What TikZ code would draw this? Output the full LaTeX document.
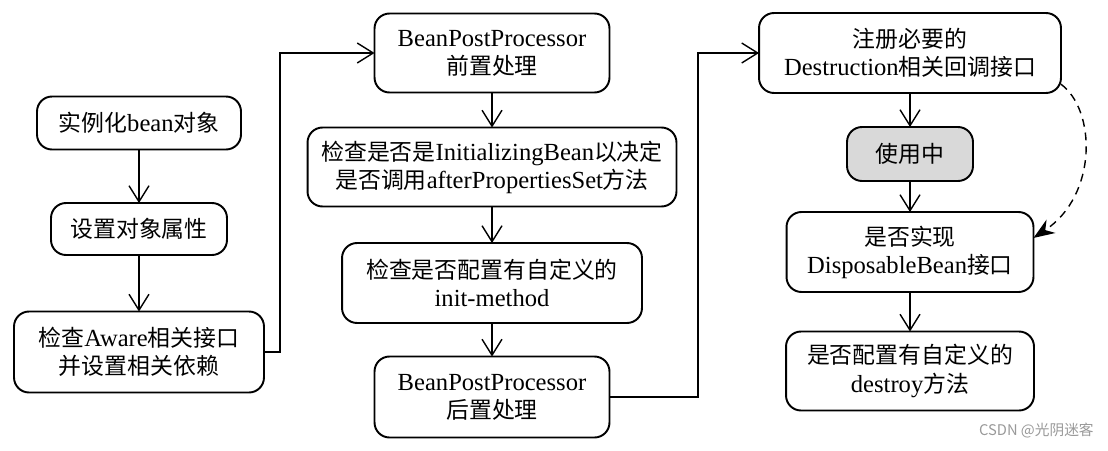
\documentclass[tikz,border=0pt]{standalone}
\usepackage{fontspec}
\setmainfont{Liberation Serif}
\newfontfamily\cjk[Scale=0.93]{Noto Sans CJK SC}
\newcommand\zh[1]{{\cjk #1}}
\usepackage{xcolor}
\usepackage{tikz}
\usetikzlibrary{positioning}
\usetikzlibrary{arrows.meta}
\usetikzlibrary{shapes}

\begin{document}
\begin{tikzpicture}[
                    x = 0.02cm, y = -0.02cm,
                    stage/.style = { draw, black, rounded corners = 0.3cm, line width = 1.1pt, align = center, font = \fontsize{14}{16}\selectfont, inner sep = 0pt, outer sep = 0pt, text = black },
                    busy/.style = { stage, fill = black!15 },
                    flow/.style = { draw, line width = 0.8pt, -{Straight Barb[length = 0.32cm, width = 0.4cm]} },
                    hint/.style = { draw, line width = 0.8pt, dash pattern = on 4.5pt off 3.4pt, -{Stealth[length = 0.42cm, width = 0.32cm]} },
                ]
                    \useasboundingbox (0,0) rectangle (1108,450);
                    % left column
                    \node[stage, minimum width = 4.08cm, minimum height = 1.06cm] (Instantiate) at (139,123) {\zh{实例化}bean\zh{对象}};
                    \node[stage, minimum width = 3.52cm, minimum height = 1.04cm] (SetProps) at (139,229) {\zh{设置对象属性}};
                    \node[stage, minimum width = 5.0cm, minimum height = 1.62cm] (AwareCheck) at (139,352) {\zh{检查}Aware\zh{相关接口}\\\zh{并设置相关依赖}};
                    % middle column
                    \node[stage, minimum width = 4.7cm, minimum height = 1.58cm] (PreProc) at (492,53) {BeanPostProcessor\\\zh{前置处理}};
                    \node[stage, minimum width = 7.38cm, minimum height = 1.58cm] (InitBean) at (492,167) {\zh{检查是否是}InitializingBean\zh{以决定}\\\zh{是否调用}afterPropertiesSet\zh{方法}};
                    \node[stage, minimum width = 6.0cm, minimum height = 1.6cm] (InitMethod) at (492,283) {\zh{检查是否配置有自定义的}\\init-method};
                    \node[stage, minimum width = 4.7cm, minimum height = 1.62cm] (PostProc) at (492,397) {BeanPostProcessor\\\zh{后置处理}};
                    % right column
                    \node[stage, minimum width = 6.04cm, minimum height = 1.6cm] (RegDestr) at (910,53) {\zh{注册必要的}\\Destruction\zh{相关回调接口}};
                    \node[busy, minimum width = 2.52cm, minimum height = 1.08cm] (InUse) at (910,154) {\zh{使用中}};
                    \node[stage, minimum width = 4.94cm, minimum height = 1.6cm] (DispBean) at (910,252) {\zh{是否实现}\\DisposableBean\zh{接口}};
                    \node[stage, minimum width = 4.96cm, minimum height = 1.58cm] (DestroyMethod) at (910,371) {\zh{是否配置有自定义的}\\destroy\zh{方法}};
                    % connectors
                    \draw[flow] (Instantiate) -- (SetProps);
                    \draw[flow] (SetProps) -- (AwareCheck);
                    \draw[flow] (AwareCheck.east) -- (280,352) |- (PreProc.west);
                    \draw[flow] (PreProc) -- (InitBean);
                    \draw[flow] (InitBean) -- (InitMethod);
                    \draw[flow] (InitMethod) -- (PostProc);
                    \draw[flow] (PostProc.east) -- (698,397) |- (RegDestr.west);
                    \draw[flow] (RegDestr) -- (InUse);
                    \draw[flow] (InUse) -- (DispBean);
                    \draw[flow] (DispBean) -- (DestroyMethod);
                    \draw[hint] ([yshift = 5pt]RegDestr.south east) .. controls (1096,110) and (1098,195) .. ([yshift = 8pt]DispBean.east);
                    \node[anchor = east, text = black!40, font = \cjk\fontsize{9}{10}\selectfont, inner sep = 0pt] (Mark) at (1094,431) {CSDN @光阴迷客};
                \end{tikzpicture}
\end{document}
